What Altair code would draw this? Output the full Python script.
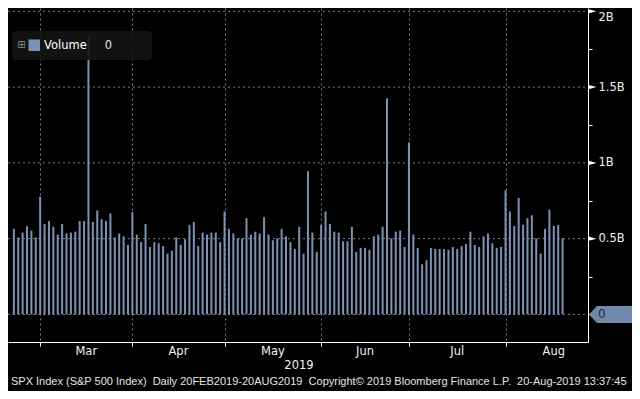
import altair as alt
import pandas as pd

# ---------------- data (daily SPX volume, billions of shares) ----------------
volume_b = [
    # Feb 20-28
    0.565, 0.508, 0.540, 0.582, 0.553, 0.508, 0.776,
    # Mar
    0.597, 0.616, 0.578, 0.527, 0.597, 0.534, 0.540, 0.546, 0.616, 0.616, 1.842,
    0.610, 0.686, 0.629, 0.616, 0.667, 0.508, 0.534, 0.515, 0.458, 0.675,
    # Apr
    0.527, 0.477, 0.597, 0.445, 0.477, 0.470, 0.451, 0.401, 0.420, 0.508, 0.458,
    0.496, 0.591, 0.610, 0.451, 0.540, 0.527, 0.540, 0.540, 0.477, 0.679,
    # May
    0.565, 0.534, 0.502, 0.502, 0.635, 0.527, 0.546, 0.534, 0.641, 0.527, 0.489,
    0.502, 0.565, 0.515, 0.477, 0.432, 0.578, 0.401, 0.945, 0.540, 0.413, 0.591,
    # Jun
    0.679, 0.597, 0.546, 0.540, 0.483, 0.483, 0.578, 0.413, 0.439, 0.439, 0.426,
    0.515, 0.527, 0.578, 1.426, 0.502, 0.546, 0.553, 0.445, 1.135,
    # Jul
    0.527, 0.439, 0.331, 0.357, 0.439, 0.432, 0.432, 0.432, 0.426, 0.445, 0.432,
    0.451, 0.464, 0.546, 0.458, 0.445, 0.515, 0.534, 0.470, 0.439, 0.445, 0.819,
    # Aug
    0.679, 0.584, 0.768, 0.591, 0.635, 0.654, 0.502, 0.401, 0.565, 0.692, 0.584,
    0.591, 0.502, 0.0,
]
day_index = list(range(len(volume_b)))

month_names = ["Mar", "Apr", "May", "Jun", "Jul", "Aug"]
month_label_pos = [16.5, 37.5, 59, 80, 101, 123]   # trading-day index of label centre
month_bounds = [6, 27, 48, 70, 90, 112]             # trading-day index of month gridlines

grid_levels = [0, 0.5, 1, 1.5, 2]
tick_levels = [0, 0.25, 0.5, 0.75, 1, 1.25, 1.5, 1.75, 2]
flag_levels = [0.5, 1, 1.5, 2]

year_label = "2019"
legend_name = "Volume"
legend_value = "0"
footer = ("SPX Index (S&P 500 Index) \u00a0Daily 20FEB2019-20AUG2019 \u00a0"
          "Copyright\u00a9 2019 Bloomberg Finance L.P. \u00a020-Aug-2019 13:37:45")

# ---------------- layout / style ----------------
W, H = 580, 334
BAR = "#7b92b5"
GRID = "#7f7f7f"
TXT = "#eef2f8"

x_scale = alt.Scale(domain=[-0.19, 129.65], nice=False, zero=False)
y_scale = alt.Scale(domain=[-0.182, 2.022], nice=False, zero=False)

x_axis = alt.Axis(values=month_bounds, labels=False, grid=True, title=None,
                  gridDash=[2, 3], gridColor=GRID, gridWidth=1,
                  domainColor="white", tickColor="white", tickSize=4,
                  orient="bottom")
y_axis = alt.Axis(orient="right", values=tick_levels, grid=False, title=None,
                  domainColor="white", tickColor="white", tickSize=4,
                  labelExpr="datum.value == 0 || (datum.value * 2) % 1 != 0 ? '' : datum.value + 'B'",
                  labelColor=TXT, labelFont="DejaVu Sans", labelFontSize=11.5,
                  labelPadding=6, labelFlush=6)

bars_df = pd.DataFrame({"idx": day_index, "vol": volume_b})
months_df = pd.DataFrame({"pos": month_label_pos, "name": month_names})
grid_df = pd.DataFrame({"lvl": grid_levels})
flag_df = pd.DataFrame({"lvl": flag_levels})
zero_df = pd.DataFrame({"lvl": [0.0], "txt": [legend_value]})

hgrid = alt.Chart(grid_df).mark_rule(color=GRID, strokeDash=[2, 3], strokeWidth=1).encode(
    y=alt.Y("lvl:Q", scale=y_scale, axis=y_axis),
    x=alt.value(0), x2=alt.value(W),
)

bars = alt.Chart(bars_df).mark_bar(size=2, color=BAR).encode(
    x=alt.X("idx:Q", scale=x_scale, axis=x_axis),
    y=alt.Y("vol:Q", scale=y_scale, axis=y_axis),
)

flags = alt.Chart(flag_df).mark_point(
    shape="M -1 -0.55 L 1 0 L -1 0.55 Z", filled=True, color="white", size=64, opacity=1
).encode(y=alt.Y("lvl:Q", scale=y_scale, axis=y_axis), x=alt.value(W + 4.5))

tag = alt.Chart(zero_df).mark_point(
    shape="M -1 0 L -0.63 -0.395 L 1 -0.395 L 1 0.395 L -0.63 0.395 Z",
    filled=True, color="#7088aa", size=1849, opacity=1
).encode(y=alt.Y("lvl:Q", scale=y_scale, axis=y_axis), x=alt.value(W + 22.5))

tag_text = alt.Chart(zero_df).mark_text(
    font="DejaVu Sans", fontSize=12, color="#1c2a40", align="left", baseline="middle"
).encode(y=alt.Y("lvl:Q", scale=y_scale, axis=y_axis), x=alt.value(W + 10), text="txt:N")

months = alt.Chart(months_df).mark_text(
    font="DejaVu Sans", fontSize=11.5, color=TXT, baseline="middle", align="center"
).encode(x=alt.X("pos:Q", scale=x_scale, axis=x_axis), y=alt.value(H + 10), text="name:N")

year = alt.Chart(pd.DataFrame({"t": [year_label]})).mark_text(
    font="DejaVu Sans", fontSize=11.5, color=TXT, baseline="middle", align="center"
).encode(x=alt.value(W / 2 + 1), y=alt.value(H + 24), text="t:N")

foot = alt.Chart(pd.DataFrame({"t": [footer]})).mark_text(
    font="Liberation Sans", fontSize=11, color="#e6e6e6", baseline="middle", align="left"
).encode(x=alt.value(3), y=alt.value(H + 40), text="t:N")

# legend box (top-left)
leg_df = pd.DataFrame({"k": [0]})
leg_box = alt.Chart(leg_df).mark_rect(color="#141414", opacity=0.9, cornerRadius=4).encode(
    x=alt.value(4), x2=alt.value(144), y=alt.value(23), y2=alt.value(52))
leg_icon = alt.Chart(pd.DataFrame({"t": ["\u229e"]})).mark_text(
    font="DejaVu Sans", fontSize=10, color="#8c8c8c", baseline="middle", align="center"
).encode(x=alt.value(13.5), y=alt.value(37), text="t:N")
leg_sq = alt.Chart(leg_df).mark_rect(color=BAR).encode(
    x=alt.value(20.5), x2=alt.value(32), y=alt.value(31.5), y2=alt.value(43))
leg_name = alt.Chart(pd.DataFrame({"t": [legend_name]})).mark_text(
    font="DejaVu Sans", fontSize=11.5, color="white", baseline="middle", align="left"
).encode(x=alt.value(36), y=alt.value(37.5), text="t:N")
leg_val = alt.Chart(pd.DataFrame({"t": [legend_value]})).mark_text(
    font="DejaVu Sans", fontSize=11.5, color="#d4e2f8", baseline="middle", align="center"
).encode(x=alt.value(100.5), y=alt.value(37.5), text="t:N")

chart = alt.layer(
    hgrid, bars, flags, tag, tag_text, months, year, foot,
    leg_box, leg_icon, leg_sq, leg_name, leg_val,
).properties(
    width=W, height=H, background="black",
    autosize=alt.AutoSizeParams(type="none"),
    padding={"left": 0, "top": 0, "right": 44, "bottom": 49},
).configure_view(stroke=None)

chart.save("out.html", embed_options={"renderer": "svg", "actions": False})
